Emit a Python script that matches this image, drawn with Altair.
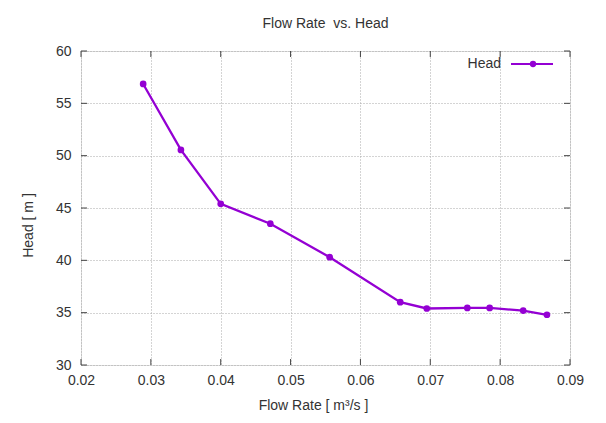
import altair as alt
import pandas as pd

flow = [0.0289, 0.0343, 0.0400, 0.0471, 0.0556, 0.0657, 0.0695, 0.0753, 0.0785, 0.0833, 0.0867]
head = [56.85, 50.55, 45.4, 43.5, 40.3, 36.0, 35.4, 35.45, 35.45, 35.2, 34.8]
x_ticks = [0.02, 0.03, 0.04, 0.05, 0.06, 0.07, 0.08, 0.09]
y_ticks = [30, 35, 40, 45, 50, 55, 60]

df = pd.DataFrame({"flow": flow, "head": head})
xt = pd.DataFrame({"v": x_ticks})
yt = pd.DataFrame({"v": y_ticks})

W, H = 489, 314
PURPLE = "#9400D3"
FONT = "Liberation Sans"

xscale = alt.Scale(domain=[0.02, 0.09], nice=False, zero=False)
yscale = alt.Scale(domain=[30, 60], nice=False, zero=False)

xaxis = alt.Axis(values=x_ticks, format=".2f", title="Flow Rate [ m³/s ]",
                 grid=True, gridDash=[1, 2], gridColor="#a8a8a8", gridWidth=1,
                 domain=False, ticks=False, labelFlush=False, labelPadding=8, labelFontSize=14,
                 labelColor="#333", titleFontSize=14, titleColor="#333",
                 titleFontWeight="normal", titlePadding=11, titleX=232)
yaxis = alt.Axis(values=y_ticks, title="Head [ m ]",
                 grid=True, gridDash=[1, 2], gridColor="#a8a8a8", gridWidth=1,
                 domain=False, ticks=False, labelFlush=False, labelPadding=10, labelFontSize=14,
                 labelColor="#333", titleFontSize=14, titleColor="#333",
                 titleFontWeight="normal", titlePadding=20, titleY=174)

line = alt.Chart(df).mark_line(color=PURPLE, strokeWidth=2.3,
                               point=alt.OverlayMarkDef(color=PURPLE, filled=True, size=45, opacity=1)).encode(
    x=alt.X("flow:Q", scale=xscale, axis=xaxis),
    y=alt.Y("head:Q", scale=yscale, axis=yaxis),
)

tb = alt.Chart(xt).mark_rule(color="#444", strokeWidth=1).encode(
    x=alt.X("v:Q", scale=xscale), y=alt.value(H), y2=alt.value(H - 6))
tt = alt.Chart(xt).mark_rule(color="#444", strokeWidth=1).encode(
    x=alt.X("v:Q", scale=xscale), y=alt.value(0), y2=alt.value(6))
tl = alt.Chart(yt).mark_rule(color="#444", strokeWidth=1).encode(
    y=alt.Y("v:Q", scale=yscale), x=alt.value(0), x2=alt.value(6))
tr = alt.Chart(yt).mark_rule(color="#444", strokeWidth=1).encode(
    y=alt.Y("v:Q", scale=yscale), x=alt.value(W), x2=alt.value(W - 6))

leg_df = pd.DataFrame({"label": ["Head"]})
leg_text = alt.Chart(leg_df).mark_text(align="right", baseline="middle", fontSize=14,
                                       font=FONT, color="#333").encode(
    text="label:N", x=alt.value(420), y=alt.value(13))
leg_line = alt.Chart(leg_df).mark_rule(color=PURPLE, strokeWidth=2).encode(
    x=alt.value(430), x2=alt.value(472), y=alt.value(13))
leg_pt = alt.Chart(leg_df).mark_point(color=PURPLE, filled=True, size=40, opacity=1, shape="circle").encode(
    x=alt.value(452), y=alt.value(13))

chart = alt.layer(line, tb, tt, tl, tr, leg_line, leg_pt, leg_text).properties(
    width=W, height=H,
    title=alt.TitleParams("Flow Rate\u00a0 vs. Head", fontSize=14, font=FONT, color="#333",
                          fontWeight="normal", offset=13),
    autosize=alt.AutoSizeParams(type="none"),
    padding={"left": 81, "top": 51, "right": 36, "bottom": 58},
).configure_view(stroke="#444", strokeWidth=1.2).configure(font=FONT, background="white")

chart.save("out.html", embed_options={"renderer": "svg", "actions": False})
